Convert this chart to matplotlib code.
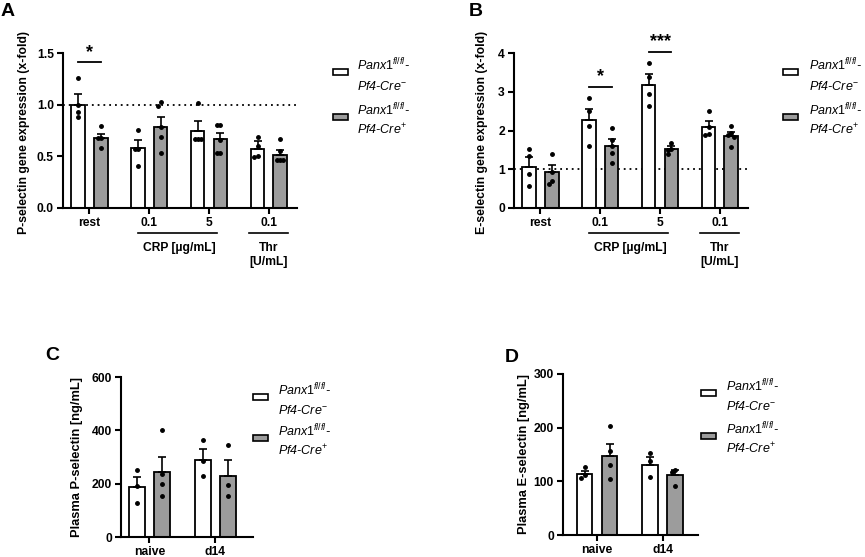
import matplotlib
matplotlib.use("Agg")
import matplotlib.pyplot as plt
from matplotlib.patches import Rectangle
import matplotlib.transforms as mtrans
import numpy as np

plt.rcParams['font.family'] = ['Liberation Sans', 'DejaVu Sans']
plt.rcParams['mathtext.fontset'] = 'custom'
plt.rcParams['mathtext.rm'] = 'Liberation Sans'
plt.rcParams['mathtext.it'] = 'Liberation Sans:italic'
plt.rcParams['mathtext.bf'] = 'Liberation Sans:bold'

# ---------------- data ----------------
ab_groups = ['rest', '0.1', '5', '0.1']

a_ctrl_mean = [1.00, 0.58, 0.75, 0.57]
a_ctrl_sem = [0.10, 0.08, 0.09, 0.075]
a_ctrl_pts = [[1.26, 1.00, 0.93, 0.88], [0.755, 0.57, 0.57, 0.41],
              [1.02, 0.67, 0.67, 0.67], [0.69, 0.60, 0.50, 0.49]]
a_ko_mean = [0.675, 0.78, 0.665, 0.515]
a_ko_sem = [0.045, 0.10, 0.065, 0.045]
a_ko_pts = [[0.79, 0.68, 0.68, 0.585], [1.03, 0.99, 0.78, 0.69, 0.53],
            [0.80, 0.80, 0.66, 0.53, 0.53], [0.665, 0.55, 0.465, 0.465, 0.465]]

b_ctrl_mean = [1.07, 2.27, 3.17, 2.10]
b_ctrl_sem = [0.24, 0.29, 0.28, 0.14]
b_ctrl_pts = [[1.52, 1.35, 0.87, 0.58], [2.85, 2.50, 2.12, 1.61],
              [3.74, 3.38, 2.94, 2.63], [2.51, 2.10, 1.90, 1.88]]
b_ko_mean = [0.92, 1.61, 1.53, 1.86]
b_ko_sem = [0.19, 0.17, 0.07, 0.09]
b_ko_pts = [[1.40, 0.92, 0.69, 0.62], [2.06, 1.76, 1.61, 1.41, 1.16],
            [1.69, 1.53, 1.50, 1.40], [2.12, 1.94, 1.88, 1.84, 1.58]]

cd_groups = ['naive', 'd14']
c_ctrl_mean = [187, 290]
c_ctrl_sem = [37, 41]
c_ctrl_pts = [[250, 191, 129], [362, 285, 229]]
c_ko_mean = [245, 228]
c_ko_sem = [55, 62]
c_ko_pts = [[400, 237, 200, 155], [345, 194, 154]]

d_ctrl_mean = [114, 131]
d_ctrl_sem = [6, 15]
d_ctrl_pts = [[127, 112, 107], [152, 137, 108]]
d_ko_mean = [148, 111]
d_ko_sem = [22, 10]
d_ko_pts = [[203, 156, 131, 105], [121, 118, 91]]

leg_line1 = r"$\mathit{Panx1}^{\mathit{fl/fl}}$-"
leg_ctrl2 = r"Pf4-Cre$^{\mathit{-}}$"
leg_ko2 = r"Pf4-Cre$^{\mathit{+}}$"

GREY = '#9c9c9c'
W, H = 865, 557
TICK_FS = 8.7

fig = plt.figure(figsize=(W / 100, H / 100), dpi=100)


def px_axes(l, t, r, b):
    return fig.add_axes([l / W, 1 - b / H, (r - l) / W, (b - t) / H])


def style_axes(ax):
    for s in ['top', 'right']:
        ax.spines[s].set_visible(False)
    for s in ['left', 'bottom']:
        ax.spines[s].set_linewidth(1.5)
    ax.tick_params(axis='both', width=1.5, length=4, labelsize=TICK_FS, pad=2.5)
    for lab in ax.get_xticklabels() + ax.get_yticklabels():
        lab.set_fontweight('bold')


def spread(vals, yrange, dx):
    offs = []
    for i, v in enumerate(vals):
        k = sum(1 for j in range(i) if abs(vals[j] - v) < 0.03 * yrange)
        offs.append([0, -dx, dx, -2 * dx, 2 * dx][min(k, 4)])
    return offs


def draw_series(ax, xpos, means, sems, pts, color, width, yrange):
    ax.bar(xpos, means, width=width, color=color, edgecolor='black',
           linewidth=1.3, zorder=2)
    ax.errorbar(xpos, means, yerr=[np.zeros(len(means)), sems], fmt='none',
                ecolor='black', elinewidth=1.2, capsize=3, capthick=1.2, zorder=3)
    for x, p in zip(xpos, pts):
        offs = spread(p, yrange, width * 0.22)
        ax.plot(np.array(offs) + x, p, 'o', color='black', ms=2.5, zorder=4,
                clip_on=False)


def legend(xp, yc1, yc2, xt):
    for yc, col, l2 in [(yc1, 'white', leg_ctrl2), (yc2, GREY, leg_ko2)]:
        fig.patches.append(Rectangle((xp / W, 1 - (yc + 3) / H), 15 / W, 6 / H,
                                     transform=fig.transFigure, facecolor=col,
                                     edgecolor='black', linewidth=1.2))
        fig.text(xt / W, 1 - (yc - 2) / H, leg_line1, fontsize=9, style='italic',
                 va='baseline', ha='left')
        fig.text(xt / W, 1 - (yc + 17.5) / H, l2, fontsize=9, style='italic',
                 va='baseline', ha='left')


def dotted_one(ax):
    ax.axhline(1.0, color='black', linestyle=(0, (1, 2.2)), linewidth=1.3, zorder=1)


def sig(ax, x0, x1, y, ytxt, txt):
    ax.plot([x0, x1], [y, y], color='black', lw=1.3, clip_on=False)
    ax.text((x0 + x1) / 2, ytxt, txt, ha='center', va='center', fontsize=13,
            fontweight='bold', clip_on=False)


def group_labels(ax):
    tr = mtrans.blended_transform_factory(ax.transData, ax.transAxes)
    ax.plot([0.81, 2.14], [-0.161, -0.161], color='black', lw=1.2,
            transform=tr, clip_on=False)
    ax.plot([2.67, 3.32], [-0.161, -0.161], color='black', lw=1.2,
            transform=tr, clip_on=False)
    ax.text(1.5, -0.258, 'CRP [µg/mL]', transform=tr, ha='center', va='center',
            fontsize=TICK_FS, fontweight='bold')
    ax.text(3.0, -0.258, 'Thr', transform=tr, ha='center', va='center',
            fontsize=TICK_FS, fontweight='bold')
    ax.text(3.0, -0.35, '[U/mL]', transform=tr, ha='center', va='center',
            fontsize=TICK_FS, fontweight='bold')


OFF = 0.19
BW = 0.228

# ---------- Panel A ----------
axA = px_axes(63, 53, 297, 208)
xg = np.arange(len(ab_groups))
dotted_one(axA)
draw_series(axA, xg - OFF, a_ctrl_mean, a_ctrl_sem, a_ctrl_pts, 'white', BW, 1.5)
draw_series(axA, xg + OFF, a_ko_mean, a_ko_sem, a_ko_pts, GREY, BW, 1.5)
axA.set_xlim(-0.44, 3.47)
axA.set_ylim(0, 1.5)
axA.set_yticks([0, 0.5, 1.0, 1.5])
axA.set_yticklabels(['0.0', '0.5', '1.0', '1.5'])
axA.set_xticks(xg)
axA.set_xticklabels(ab_groups)
style_axes(axA)
axA.set_ylabel('P-selectin gene expression (x-fold)', fontsize=8.8, fontweight='bold')
axA.yaxis.set_label_coords(-0.141, 0.49)
group_labels(axA)
sig(axA, -0.19, 0.19, 1.41, 1.50, '*')
legend(333, 72, 117, 357)

# ---------- Panel B ----------
axB = px_axes(514, 53, 748, 208)
dotted_one(axB)
draw_series(axB, xg - OFF, b_ctrl_mean, b_ctrl_sem, b_ctrl_pts, 'white', BW, 4)
draw_series(axB, xg + OFF, b_ko_mean, b_ko_sem, b_ko_pts, GREY, BW, 4)
axB.set_xlim(-0.44, 3.47)
axB.set_ylim(0, 4)
axB.set_yticks([0, 1, 2, 3, 4])
axB.set_xticks(xg)
axB.set_xticklabels(ab_groups)
style_axes(axB)
axB.set_ylabel('E-selectin gene expression (x-fold)', fontsize=8.8, fontweight='bold')
axB.yaxis.set_label_coords(-0.111, 0.49)
group_labels(axB)
sig(axB, 0.81, 1.19, 3.11, 3.38, '*')
sig(axB, 1.81, 2.19, 4.03, 4.29, '***')
legend(783, 72, 117, 809)

# ---------- Panel C ----------
axC = px_axes(121, 377, 253, 537)
xc = np.arange(len(cd_groups))
draw_series(axC, xc - OFF, c_ctrl_mean, c_ctrl_sem, c_ctrl_pts, 'white', 0.237, 600)
draw_series(axC, xc + OFF, c_ko_mean, c_ko_sem, c_ko_pts, GREY, 0.237, 600)
axC.set_xlim(-0.43, 1.57)
axC.set_ylim(0, 600)
axC.set_yticks([0, 200, 400, 600])
axC.set_xticks(xc)
axC.set_xticklabels(cd_groups)
style_axes(axC)
axC.set_ylabel('Plasma P-selectin [ng/mL]', fontsize=9.3, fontweight='bold')
axC.yaxis.set_label_coords(-0.288, 0.5)
legend(253, 397, 438, 278)

# ---------- Panel D ----------
axD = px_axes(563, 374, 698, 535)
draw_series(axD, xc - OFF, d_ctrl_mean, d_ctrl_sem, d_ctrl_pts, 'white', 0.24, 300)
draw_series(axD, xc + OFF, d_ko_mean, d_ko_sem, d_ko_pts, GREY, 0.24, 300)
axD.set_xlim(-0.52, 1.54)
axD.set_ylim(0, 300)
axD.set_yticks([0, 100, 200, 300])
axD.set_xticks(xc)
axD.set_xticklabels(cd_groups)
style_axes(axD)
axD.set_ylabel('Plasma E-selectin [ng/mL]', fontsize=9.3, fontweight='bold')
axD.yaxis.set_label_coords(-0.244, 0.5)
legend(701, 393, 436, 726)

# panel letters
for lt, x, y in [('A', 8, 12), ('B', 476, 12), ('C', 52, 355), ('D', 512, 357)]:
    fig.text(x / W, 1 - y / H, lt, fontsize=14, fontweight='bold',
             ha='center', va='center')

fig.savefig('out.png', dpi=100)
